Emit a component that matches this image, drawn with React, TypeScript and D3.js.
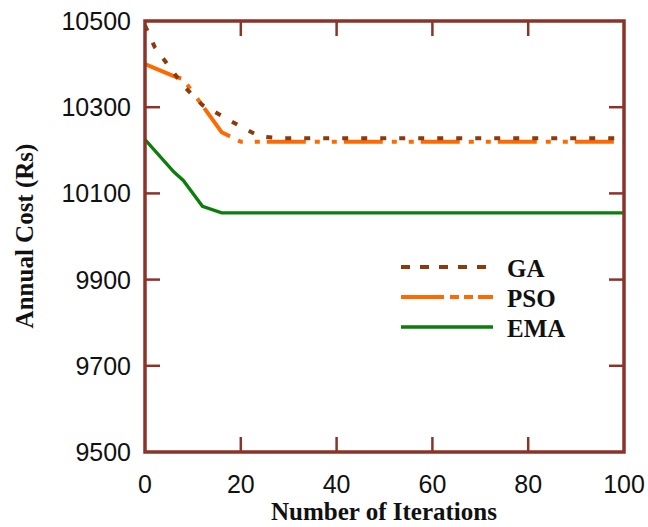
import * as d3 from "d3";

// iteration / annual cost (Rs) vertices
const gaIter = [0, 2, 8, 12, 16, 20, 24, 28, 100];
const gaCost = [10490, 10440, 10350, 10305, 10280, 10255, 10232, 10228, 10228];

const psoIter = [0, 6, 8, 16, 20, 100];
const psoCost = [10400, 10372, 10365, 10242, 10220, 10220];

const emaIter = [0, 6, 8, 12, 16, 100];
const emaCost = [10225, 10150, 10130, 10070, 10055, 10055];

const xTicks = [0, 20, 40, 60, 80, 100];
const yTicks = [9500, 9700, 9900, 10100, 10300, 10500];

const seriesNames = ["GA", "PSO", "EMA"];

const W = 648;
const H = 527;
const frame = "#8a3429";
const sans = "'Liberation Sans', Arial, sans-serif";
const serif = "'Liberation Serif', 'Times New Roman', serif";

const App = () => {
    const x = d3.scaleLinear().domain([0, 100]).range([145, 624]);
    const y = d3.scaleLinear().domain([9500, 10500]).range([452, 21]);

    const line = d3.line<[number, number]>().x(d => x(d[0])).y(d => y(d[1]));
    const pts = (it: number[], c: number[]) => it.map((v, i) => [v, c[i]] as [number, number]);

    const series = [
        {name: seriesNames[0], d: pts(gaIter, gaCost), color: "#8b3a0e", w: 4, dash: "6 13"},
        {name: seriesNames[1], d: pts(psoIter, psoCost), color: "#ff6a00", w: 4, dash: "39 9 5 12 5 7"},
        {name: seriesNames[2], d: pts(emaIter, emaCost), color: "#0a7d0a", w: 3.3, dash: null},
    ];
    // draw PSO first so GA dashes sit on top
    const drawOrder = [series[1], series[0], series[2]];
    const tl = 15;

    return (
        <svg width={W} height={H} style={{position: "absolute", left: 0, top: 0, background: "#fff"}}>
            <defs>
                <clipPath id="plot">
                    <rect x={145} y={21} width={479} height={431}/>
                </clipPath>
            </defs>
            <g clipPath="url(#plot)">
                {drawOrder.map(s => (
                    <path key={s.name} d={line(s.d) || ""} fill="none" stroke={s.color}
                          strokeWidth={s.w} strokeDasharray={s.dash || undefined}/>
                ))}
            </g>

            {/* ticks, inward on all four sides */}
            {xTicks.slice(1, -1).map(t => (
                <g key={"xt" + t} stroke={frame} strokeWidth={2.5}>
                    <line x1={x(t)} x2={x(t)} y1={452} y2={452 - tl}/>
                    <line x1={x(t)} x2={x(t)} y1={21} y2={21 + tl}/>
                </g>
            ))}
            {yTicks.slice(1, -1).map(t => (
                <g key={"yt" + t} stroke={frame} strokeWidth={2.5}>
                    <line x1={145} x2={145 + tl} y1={y(t)} y2={y(t)}/>
                    <line x1={624} x2={624 - tl} y1={y(t)} y2={y(t)}/>
                </g>
            ))}
            <rect x={145} y={21} width={479} height={431} fill="none" stroke={frame} strokeWidth={3.5}/>

            {xTicks.map(t => (
                <text key={"xl" + t} x={x(t)} y={493} textAnchor="middle" fontFamily={sans} fontSize={25}
                      fill="#111">{t}</text>
            ))}
            {yTicks.map(t => (
                <text key={"yl" + t} x={131} y={y(t) + 9} textAnchor="end" fontFamily={sans} fontSize={25}
                      fill="#111">{t}</text>
            ))}

            <text x={384} y={520} textAnchor="middle" fontFamily={serif} fontWeight="bold" fontSize={25}
                  fill="#111">Number of Iterations</text>
            <text transform="translate(33,236) rotate(-90)" textAnchor="middle" fontFamily={serif}
                  fontWeight="bold" fontSize={25} fill="#111">Annual Cost (Rs)</text>

            {series.map((s, i) => (
                <g key={"lg" + s.name}>
                    <line x1={401} x2={493} y1={267 + i * 30} y2={267 + i * 30} stroke={s.color} strokeWidth={s.w}
                          strokeDasharray={i === 0 ? "9 10" : i === 1 ? "43 6 9 5 9 5" : undefined}/>
                    <text x={507} y={277 + i * 30} fontFamily={serif} fontWeight="bold" fontSize={25}
                          fill="#111">{s.name}</text>
                </g>
            ))}
        </svg>
    );
};

export default App;
